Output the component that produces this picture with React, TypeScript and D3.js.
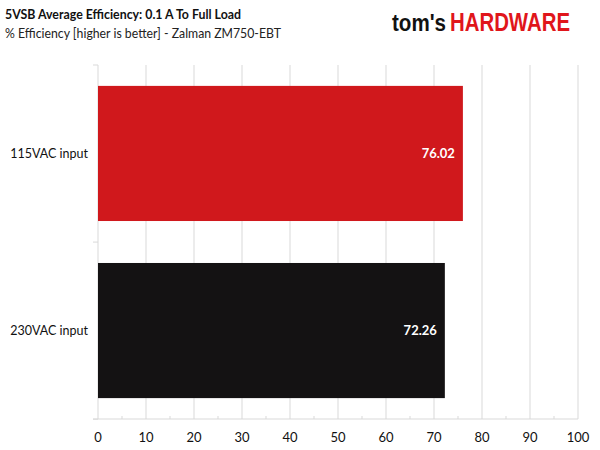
import * as d3 from "d3";

const categories = ["115VAC input", "230VAC input"];
const values = [76.02, 72.26];
const barColors = ["#d0181c", "#141213"];
const xTicks = [0, 10, 20, 30, 40, 50, 60, 70, 80, 90, 100];
const minorTicks = [5, 15, 25, 35, 45, 55, 65, 75, 85, 95];

const title = "5VSB Average Efficiency: 0.1 A To Full Load";
const subtitle = "% Efficiency [higher is better] - Zalman ZM750-EBT";

const FONT = "Lato, 'Open Sans', sans-serif";
const LOGO_FONT = "'Liberation Sans', Arial, sans-serif";

export default function App() {
  const width = 600;
  const height = 450;
  const margin = { top: 65, right: 20, bottom: 31, left: 98 };

  const x = d3
    .scaleLinear()
    .domain([0, 100])
    .range([margin.left, width - margin.right - 2]);
  const y = d3
    .scaleBand<string>()
    .domain(categories)
    .range([margin.top, height - margin.bottom])
    .paddingInner(0.237)
    .paddingOuter(0.118);

  const bandStep = y.step();
  const yBottom = height - margin.bottom;

  return (
    <svg
      width={width}
      height={height}
      style={{ position: "absolute", left: 0, top: 0, background: "#fff" }}
      fontFamily={FONT}
    >
      {/* titles */}
      <text x={5} y={19} fontSize={12.5} fontWeight="bold" fill="#111" textLength={236} lengthAdjust="spacingAndGlyphs">
        {title}
      </text>
      <text x={5} y={38} fontSize={12.5} fill="#222" textLength={276} lengthAdjust="spacingAndGlyphs">
        {subtitle}
      </text>

      {/* logo */}
      <text
        x={392}
        y={31}
        fontSize={23}
        fontWeight="bold"
        fontFamily={LOGO_FONT}
        fill="#111"
        textLength={54}
        lengthAdjust="spacingAndGlyphs"
      >
        tom's
      </text>
      <text
        x={450}
        y={31}
        fontSize={25}
        fontWeight="bold"
        fontFamily={LOGO_FONT}
        fill="#e0161b"
        textLength={120}
        lengthAdjust="spacingAndGlyphs"
      >
        HARDWARE
      </text>

      {/* grid */}
      {xTicks.map((t) => (
        <line
          key={"g" + t}
          x1={x(t)}
          x2={x(t)}
          y1={margin.top}
          y2={yBottom}
          stroke="#d9d9d9"
          strokeWidth={1}
        />
      ))}

      {/* category axis ticks */}
      {[0, 1, 2].map((i) => (
        <line
          key={"ct" + i}
          x1={x(0) - 5}
          x2={x(0)}
          y1={margin.top + i * bandStep}
          y2={margin.top + i * bandStep}
          stroke="#d9d9d9"
        />
      ))}

      {/* bottom axis */}
      <line
        x1={x(0) - 5}
        x2={x(100)}
        y1={yBottom}
        y2={yBottom}
        stroke="#d9d9d9"
      />
      {minorTicks.map((t) => (
        <line
          key={"m" + t}
          x1={x(t)}
          x2={x(t)}
          y1={yBottom - 3}
          y2={yBottom}
          stroke="#d9d9d9"
        />
      ))}
      {xTicks.map((t) => (
        <text
          key={"l" + t}
          x={x(t)}
          y={442}
          fontSize={13}
          textAnchor="middle"
          fill="#111"
        >
          {t}
        </text>
      ))}

      {/* bars */}
      {categories.map((c, i) => {
        const y0 = y(c) ?? 0;
        const bh = y.bandwidth();
        return (
          <g key={c}>
            <rect
              x={x(0)}
              y={y0}
              width={x(values[i]) - x(0)}
              height={bh}
              fill={barColors[i]}
            />
            <text
              x={x(values[i]) - 8}
              y={y0 + bh / 2}
              dy="0.35em"
              fontSize={13}
              fontWeight="bold"
              textAnchor="end"
              fill="#fff"
            >
              {values[i].toFixed(2)}
            </text>
            <text
              x={88}
              y={y0 + bh / 2}
              dy="0.35em"
              fontSize={12.5}
              textAnchor="end"
              fill="#111"
            >
              {c}
            </text>
          </g>
        );
      })}
    </svg>
  );
}
